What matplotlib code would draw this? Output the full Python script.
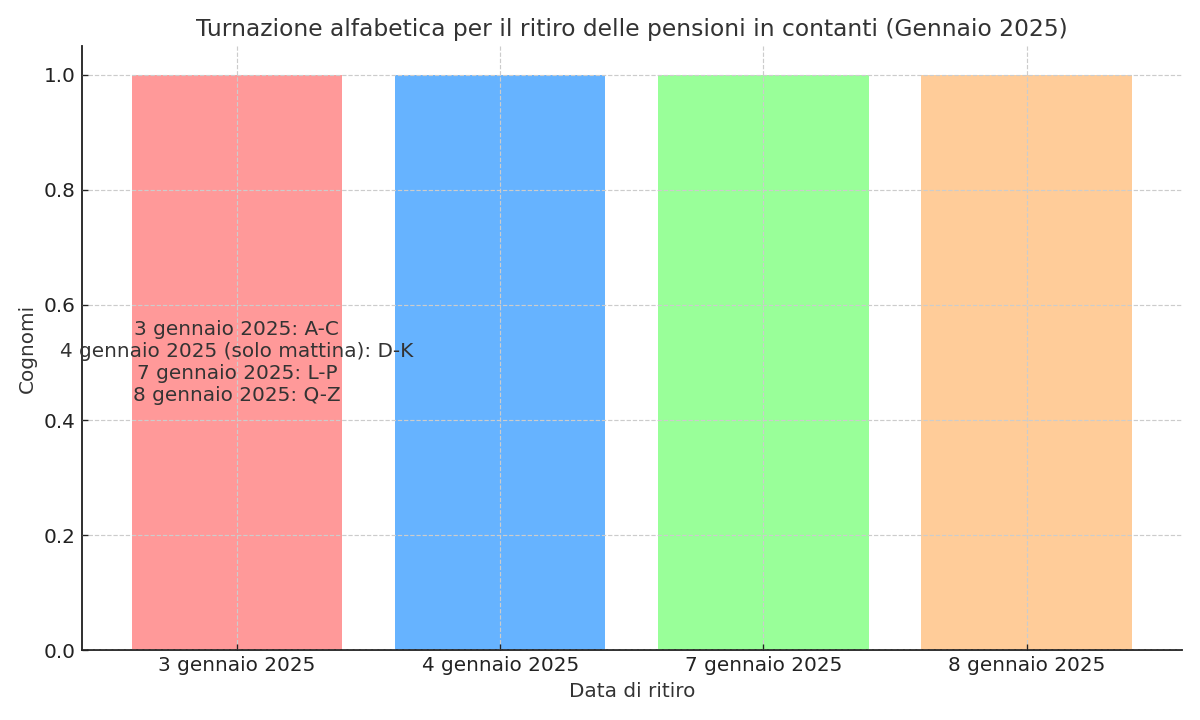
import matplotlib.pyplot as plt

# Dati del turno
date_ritiro = ['3 gennaio 2025', '4 gennaio 2025', '7 gennaio 2025', '8 gennaio 2025']
valori = [1, 1, 1, 1]
colori = ['#ff9999', '#66b3ff', '#99ff99', '#ffcc99']
etichette = ['3 gennaio 2025: A-C',
             '4 gennaio 2025 (solo mattina): D-K',
             '7 gennaio 2025: L-P',
             '8 gennaio 2025: Q-Z']

plt.rcParams['text.color'] = '#333333'
plt.rcParams['axes.labelcolor'] = '#333333'

fig, ax = plt.subplots(figsize=(10, 6), dpi=120)
ax.bar(date_ritiro, valori, color=colori)

ax.text(0, 0.5, '\n'.join(etichette), ha='center', va='center', fontsize=12, color='#333333')

ax.set_title('Turnazione alfabetica per il ritiro delle pensioni in contanti (Gennaio 2025)',
             fontsize=14, color='#333333')
ax.set_xlabel('Data di ritiro', fontsize=12)
ax.set_ylabel('Cognomi', fontsize=12)
ax.tick_params(axis='both', labelsize=12, direction='in', colors='#222222')
ax.grid(True, linestyle='--', color='#cccccc', linewidth=0.7)
ax.set_axisbelow(False)
ax.spines['top'].set_visible(False)
ax.spines['right'].set_visible(False)
for s in ('left', 'bottom'):
    ax.spines[s].set_linewidth(1.1)
    ax.spines[s].set_color('#222222')

plt.subplots_adjust(left=0.068, right=0.985, top=0.936, bottom=0.097)
fig.savefig('out.png', dpi=120)
